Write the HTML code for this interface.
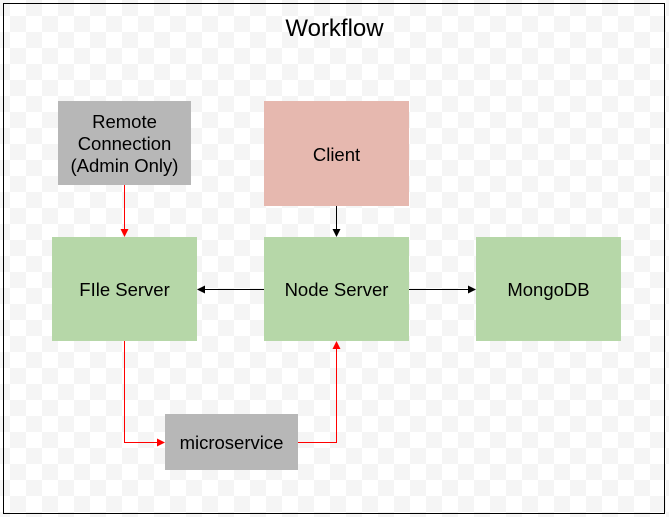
<!DOCTYPE html>
<html><head><style>
html,body{margin:0;padding:0;}
body{width:669px;height:517px;position:relative;background:#fff;font-family:"Liberation Sans",Arial,sans-serif;overflow:hidden;}
.bg{position:absolute;left:0;top:0;width:669px;height:517px;
background-color:#fff;
background-image:linear-gradient(45deg,#f5f5f5 25%,transparent 25%,transparent 75%,#f5f5f5 75%),linear-gradient(45deg,#f5f5f5 25%,transparent 25%,transparent 75%,#f5f5f5 75%);
background-size:32px 32px;background-position:10px 0,26px 16px;}
.frame{position:absolute;left:3px;top:3px;width:660px;height:509px;border:1.5px solid #000;}
.box{position:absolute;display:flex;align-items:center;justify-content:center;text-align:center;font-size:18.5px;color:#000;line-height:22px;padding-top:2px;box-sizing:border-box;}
.g{background:#b6d7a8;}.gr{background:#b7b7b7;}.p{background:#e6b8af;}
.t{position:absolute;left:0;width:669px;top:15px;text-align:center;font-size:24px;}
svg{position:absolute;left:0;top:0;}
</style></head><body>
<div class="bg"></div>
<div class="frame"></div>
<div class="t">Workflow</div>
<div class="box gr" style="left:58px;top:101px;width:133px;height:84px;">Remote<br>Connection<br>(Admin Only)</div>
<div class="box p" style="left:264px;top:101px;width:145px;height:105px;">Client</div>
<div class="box g" style="left:52px;top:237px;width:145px;height:104px;">FIle Server</div>
<div class="box g" style="left:264px;top:237px;width:145px;height:104px;">Node Server</div>
<div class="box g" style="left:476px;top:237px;width:145px;height:104px;">MongoDB</div>
<div class="box gr" style="left:165px;top:414px;width:133px;height:56px;">microservice</div>
<svg width="669" height="517">
<g stroke="#000" stroke-width="1" fill="none">
<line x1="336.5" y1="206" x2="336.5" y2="230"/>
<line x1="264" y1="289.5" x2="204" y2="289.5"/>
<line x1="409" y1="289.5" x2="469" y2="289.5"/>
</g>
<g fill="#000">
<polygon points="332.5,229 340.5,229 336.5,237"/>
<polygon points="205,285.5 205,293.5 197,289.5"/>
<polygon points="468,285.5 468,293.5 476,289.5"/>
</g>
<g stroke="#ff0000" stroke-width="1" fill="none">
<line x1="124.5" y1="185" x2="124.5" y2="230"/>
<polyline points="124.5,341 124.5,442.5 158,442.5"/>
<polyline points="298,442.5 336.5,442.5 336.5,348"/>
</g>
<g fill="#ff0000">
<polygon points="120.5,229 128.5,229 124.5,237"/>
<polygon points="157,438.5 157,446.5 165,442.5"/>
<polygon points="332.5,349 340.5,349 336.5,341"/>
</g>
</svg>
</body></html>
